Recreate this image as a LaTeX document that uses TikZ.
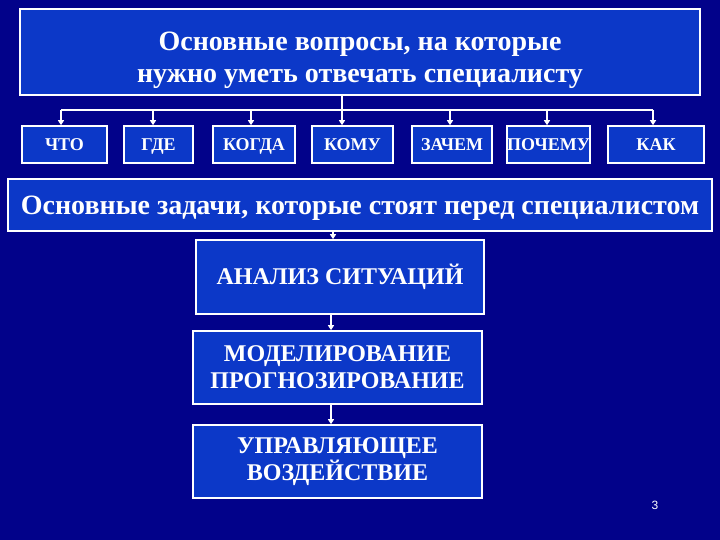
\documentclass[tikz,border=0pt]{standalone}
\usepackage{fontspec}
\setmainfont{Liberation Serif}
\newfontfamily\numfont{Liberation Sans}
\usetikzlibrary{arrows.meta}
\definecolor{bgnavy}{RGB}{2,2,138}
\definecolor{boxblue}{RGB}{12,56,200}
\tikzset{
  box/.style={draw=white, line width=1.6pt, fill=boxblue, text=white, inner sep=0pt,
    font=\bfseries, align=center},
  conn/.style={draw=white, line width=1.6pt},
  arr/.style={conn, -{Triangle[width=6pt,length=5pt]}}
}
\begin{document}
\begin{tikzpicture}[x=1pt,y=-1pt]
\fill[bgnavy] (0,0) rectangle (720,540);
\useasboundingbox (0,0) rectangle (720,540);
% top box
\node[box, minimum width=680pt, minimum height=86pt, font=\bfseries\fontsize{28}{32}\selectfont] (top) at (360,52)
  {\rule{0pt}{36pt}Основные вопросы, на которые\\нужно уметь отвечать специалисту};
% question boxes
\tikzset{qbox/.style={box, minimum height=37pt, text height=16pt, text depth=3pt, font=\bfseries\fontsize{18}{20}\selectfont}}
\node[qbox, minimum width=85pt] (q1) at (64.5,144.5) {ЧТО};
\node[qbox, minimum width=69pt] (q2) at (158.5,144.5) {ГДЕ};
\node[qbox, minimum width=82pt] (q3) at (254,144.5) {КОГДА};
\node[qbox, minimum width=81pt] (q4) at (352.5,144.5) {КОМУ};
\node[qbox, minimum width=80pt] (q5) at (452,144.5) {ЗАЧЕМ};
\node[qbox, minimum width=81pt] (q6) at (548.5,144.5) {ПОЧЕМУ};
\node[qbox, minimum width=96pt] (q7) at (656,144.5) {КАК};
% connectors from top box
\coordinate (a1) at (61,110);
\coordinate (a2) at (153,110);
\coordinate (a3) at (251,110);
\coordinate (a4) at (342,110);
\coordinate (a5) at (450,110);
\coordinate (a6) at (547,110);
\coordinate (a7) at (653,110);
\draw[conn] (a4 |- top.south) -- (a4);
\draw[conn] (a1) -- (a7);
\foreach \i in {1,...,7} \draw[arr] (a\i) -- (a\i |- q\i.north);
% banner
\node[box, minimum width=704pt, minimum height=52pt, text height=22pt, text depth=3pt, font=\bfseries\fontsize{28}{32}\selectfont] (ban) at (360,205)
  {Основные задачи, которые стоят перед специалистом};
% task boxes
\tikzset{tbox/.style={box, font=\bfseries\fontsize{24}{27}\selectfont}}
\node[tbox, minimum width=288pt, minimum height=74pt] (t1) at (340,277) {АНАЛИЗ СИТУАЦИЙ};
\node[tbox, minimum width=289pt, minimum height=73pt] (t2) at (337.5,367.5) {МОДЕЛИРОВАНИЕ\\ПРОГНОЗИРОВАНИЕ};
\node[tbox, minimum width=289pt, minimum height=73pt] (t3) at (337.5,461.5) {УПРАВЛЯЮЩЕЕ\\ВОЗДЕЙСТВИЕ};
\coordinate (b1) at (333,0);
\coordinate (b2) at (331,0);
\draw[arr] (b1 |- ban.south) -- (b1 |- t1.north);
\draw[arr] (b2 |- t1.south) -- (b2 |- t2.north);
\draw[arr] (b2 |- t2.south) -- (b2 |- t3.north);
% page number
\node[text=white, font=\numfont\fontsize{12}{14}\selectfont, inner sep=0pt] (pg) at (655,505) {3};
\end{tikzpicture}
\end{document}
